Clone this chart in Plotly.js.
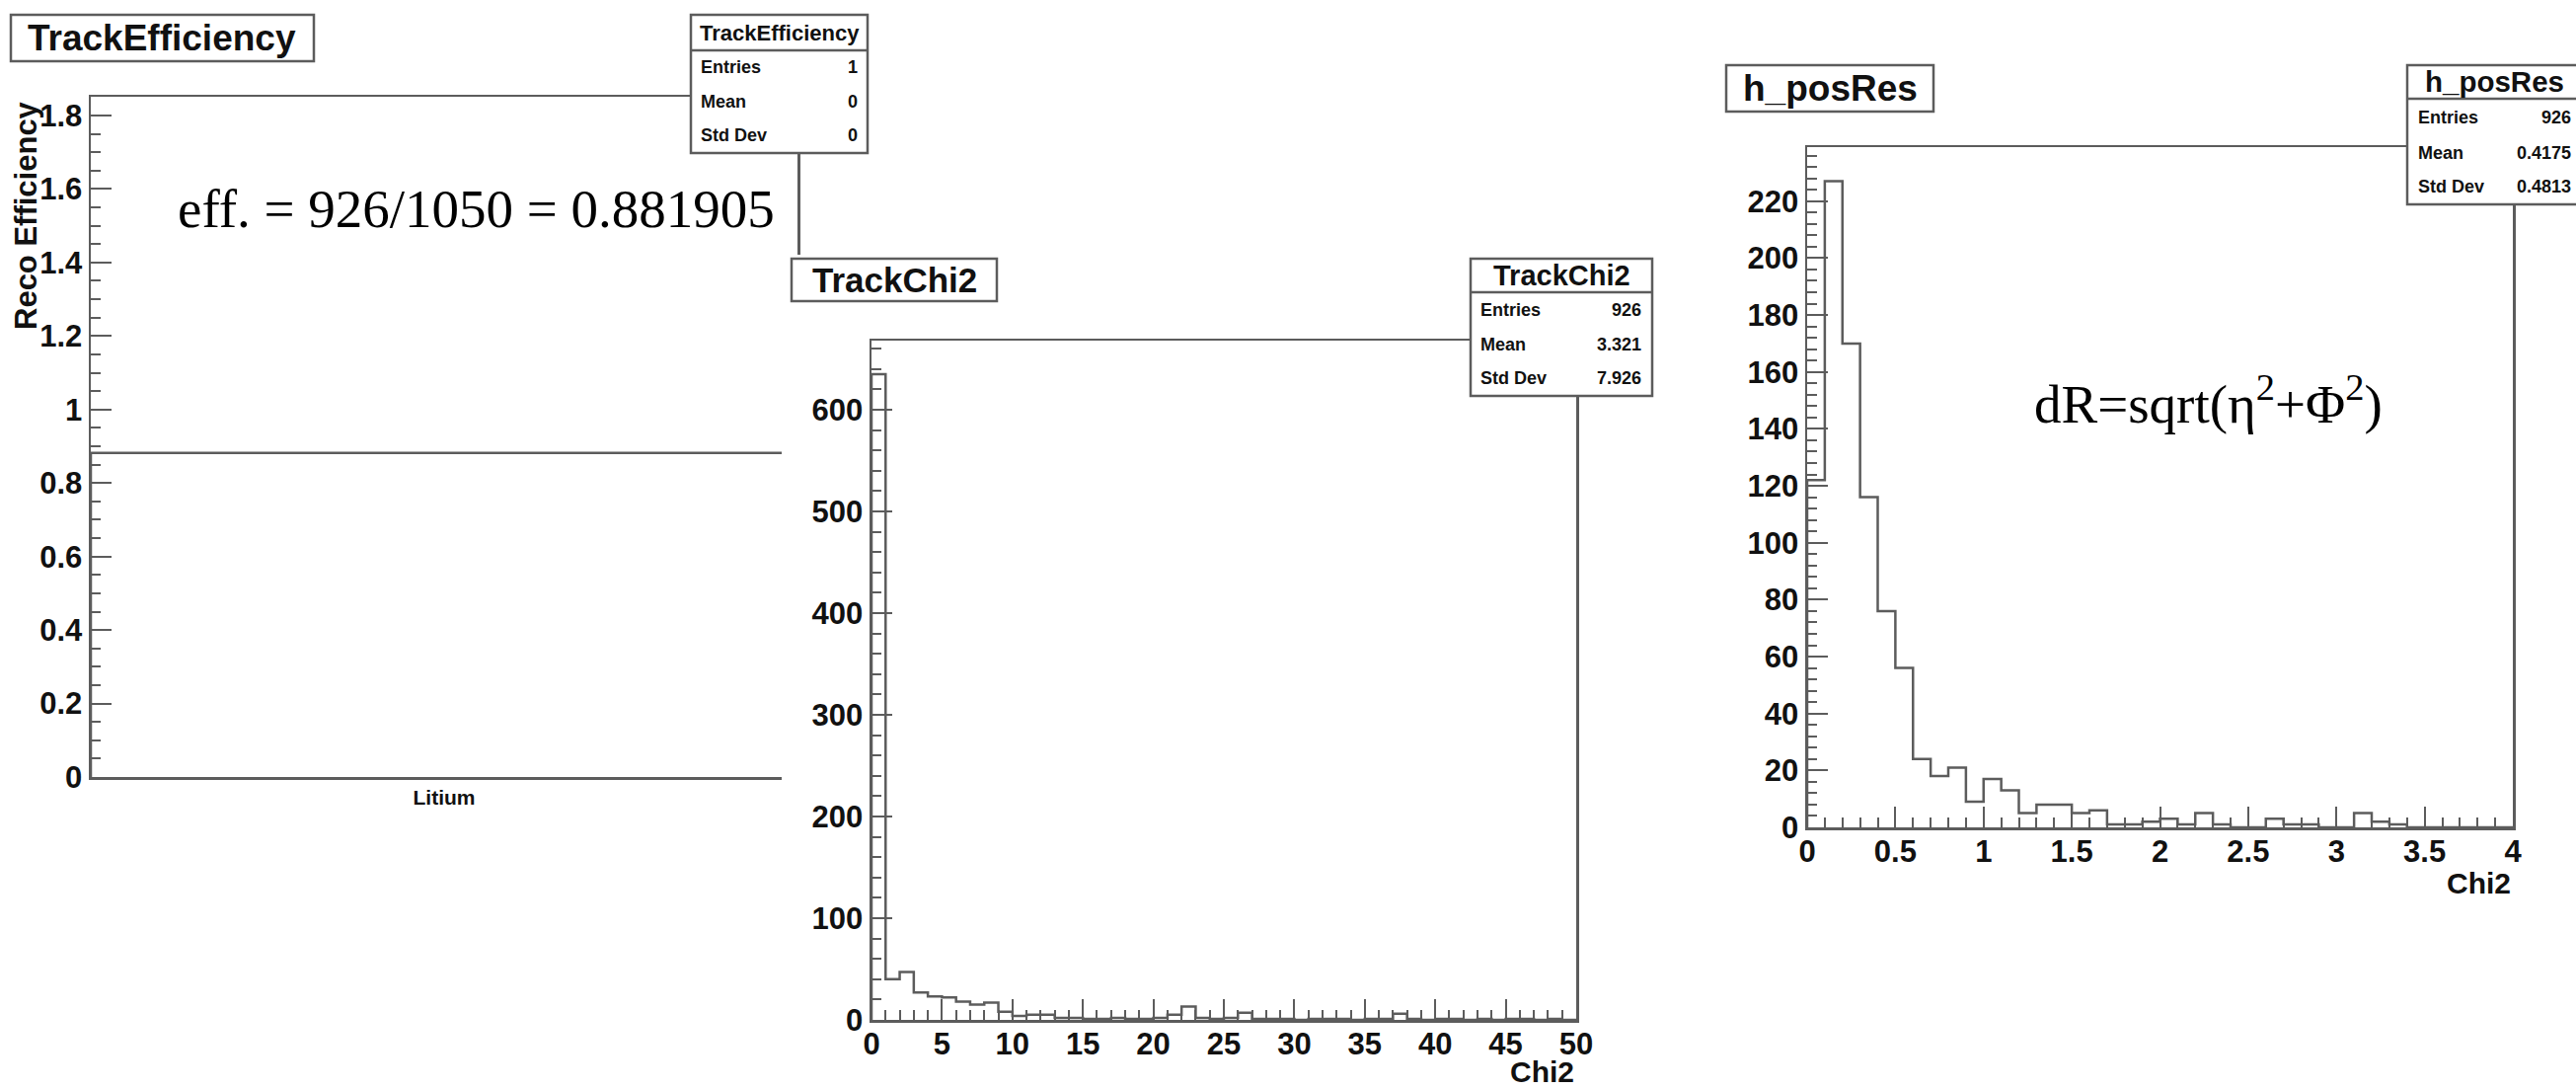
<!DOCTYPE html>
<html>
<head>
<meta charset="utf-8">
<script src="https://cdn.plot.ly/plotly-3.0.1.min.js"></script>
<style>
html,body{margin:0;padding:0;background:#fff;overflow:hidden}
#chart{width:2610px;height:1103px}
</style>
</head>
<body>
<div id="chart"></div>
<script>
// ---------------- data ----------------
const effCategories = ['Litium'];
const effValues = [0.881905];
const effRange = [0, 1.851];

const statLabels = ['Entries', 'Mean', 'Std Dev'];
const effStatValues = ['1', '0', '0'];
const chi2StatValues = ['926', '3.321', '7.926'];
const posResStatValues = ['926', '0.4175', '0.4813'];

const chi2XRange = [0, 50];
const chi2YRange = [0, 668];
const chi2Counts = [635, 40, 47, 27, 23, 22, 18, 15, 17, 8,
                    4, 5, 5, 2, 2, 1, 1, 2, 1, 1,
                    2, 5, 13, 2, 1, 2, 7, 1, 1, 1,
                    0, 1, 1, 1, 0, 1, 1, 6, 1, 0,
                    1, 1, 0, 1, 0, 1, 1, 0, 1, 0];

const posResXRange = [0, 4];
const posResYRange = [0, 239];
const posResCounts = [122, 227, 170, 116, 76, 56, 24, 18, 21, 9,
                      17, 13, 5, 8, 8, 5, 6, 1, 1, 2,
                      3, 1, 5, 1, 0, 0, 3, 1, 1, 0,
                      0, 5, 2, 1, 0, 0, 0, 0, 0, 0];

// ---------------- helpers ----------------
const W = 2610, H = 1103;
const X = p => p / W;
const Y = p => 1 - p / H;
const lineC = '#5c5c5c';
const sans = 'Liberation Sans, Arial, Helvetica, sans-serif';
const serif = 'Liberation Serif, Times New Roman, serif';

function edgesFor(range, n) {
  const e = [];
  for (let i = 0; i <= n; i++) e.push(range[0] + i * (range[1] - range[0]) / n);
  return e;
}
function stepTrace(edges, counts, xa, ya) {
  const n = counts.length;
  const x = [edges[0]], y = [0];
  for (let i = 0; i < n; i++) { x.push(edges[i]); y.push(counts[i]); }
  x.push(edges[n]); y.push(counts[n - 1]);
  x.push(edges[n]); y.push(0);
  return {type: 'scatter', mode: 'lines', x, y, xaxis: xa, yaxis: ya,
          line: {shape: 'hv', color: lineC, width: 2.5}, hoverinfo: 'skip', showlegend: false};
}

const tickFont = {family: sans, size: 31, color: '#111', weight: 'bold'};
function axis(extra) {
  return Object.assign({
    showgrid: false, zeroline: false, showline: true, linecolor: lineC, linewidth: 2.5,
    mirror: true, ticks: 'inside', ticklen: 21, tickwidth: 2, tickcolor: lineC,
    tickfont: tickFont, fixedrange: true
  }, extra);
}
function minor(dt) {
  return {ticks: 'inside', ticklen: 10, tickwidth: 2, tickcolor: lineC, dtick: dt, showgrid: false};
}

// ---------------- traces ----------------
const effEdges = edgesFor([0, effCategories.length], effCategories.length);
const traces = [
  stepTrace(effEdges, effValues, 'x', 'y'),
  stepTrace(edgesFor(chi2XRange, chi2Counts.length), chi2Counts, 'x2', 'y2'),
  stepTrace(edgesFor(posResXRange, posResCounts.length), posResCounts, 'x3', 'y3')
];

// ---------------- boxes ----------------
const shapes = [];
function rect(x0, y0, x1, y1, withLine) {
  shapes.push({type: 'rect', xref: 'paper', yref: 'paper', layer: 'above',
    x0: X(x0), x1: X(x1), y0: Y(y1), y1: Y(y0), fillcolor: '#ffffff',
    line: withLine ? {color: lineC, width: 2.5} : {width: 0}});
}
function hline(x0, x1, y) {
  shapes.push({type: 'line', xref: 'paper', yref: 'paper', layer: 'above',
    x0: X(x0), x1: X(x1), y0: Y(y), y1: Y(y), line: {color: lineC, width: 2.5}});
}
// pad overlap: the middle pad covers the lower-right corner of the left pad
rect(792, 258, 818, 800, false);
// title boxes and stats boxes
rect(11, 15, 318, 62, true);
rect(700, 15, 879, 155, true); hline(700, 879, 51);
rect(802, 262, 1010, 305, true);
rect(1490, 262, 1674, 401, true); hline(1490, 1674, 296);
rect(1749, 66, 1959, 113, true);
rect(2439, 66, 2640, 207, true); hline(2439, 2640, 100);

// ---------------- texts ----------------
const annotations = [];
function txt(t, x, y, size, anchor, opts) {
  annotations.push(Object.assign({
    text: t, xref: 'paper', yref: 'paper', x: X(x), y: Y(y), showarrow: false,
    xanchor: anchor || 'center', yanchor: 'middle',
    font: {family: sans, size: size, color: '#111', weight: 'bold'}
  }, opts || {}));
}
function stats(title, values, cx, ty, tsize, lx, rx, rows) {
  txt(title, cx, ty, tsize);
  statLabels.forEach((l, i) => {
    txt(l, lx, rows[i], 18, 'left');
    txt(values[i], rx, rows[i], 18, 'right');
  });
}
txt('TrackEfficiency', 164.5, 38.5, 37);
stats('TrackEfficiency', effStatValues, 789.5, 33, 22, 708, 871, [68, 103, 137]);
txt('Reco Efficiency', 26, 100, 31, 'center', {textangle: -90, yanchor: 'top'});
txt('eff. = 926/1050 = 0.881905', 482, 211, 55, 'center',
    {font: {family: serif, size: 55, color: '#000'}});

txt('TrackChi2', 906, 283.5, 35);
stats('TrackChi2', chi2StatValues, 1582, 279, 29, 1498, 1665, [314, 349, 383]);
txt('Chi2', 1597, 1085, 30, 'right');

txt('h_posRes', 1854, 89.5, 37);
stats('h_posRes', posResStatValues, 2527, 83, 29.5, 2448, 2607, [119, 155, 189]);
txt('dR=sqrt(η<sup>2</sup>+Φ<sup>2</sup>)', 2237, 405, 55, 'center',
    {font: {family: serif, size: 55, color: '#000'}});
txt('Chi2', 2546, 895, 30, 'right');

// ---------------- layout ----------------
const layout = {
  width: W, height: H,
  margin: {l: 0, r: 0, t: 0, b: 0, pad: 0},
  paper_bgcolor: '#ffffff', plot_bgcolor: '#ffffff',
  showlegend: false,
  xaxis: axis({domain: [X(92), X(808)], range: [0, effCategories.length], anchor: 'y',
               ticks: '', tickvals: effCategories.map((c, i) => i + 0.5), ticktext: effCategories,
               tickfont: {family: sans, size: 21, color: '#111', weight: 'bold'}}),
  yaxis: axis({domain: [Y(787), Y(98)], range: effRange, anchor: 'x',
               dtick: 0.2, tick0: 0, minor: minor(0.05)}),
  xaxis2: axis({domain: [X(883), X(1597)], range: chi2XRange, anchor: 'y2',
                dtick: 5, tick0: 0, minor: minor(1), ticklabelstandoff: -5}),
  yaxis2: axis({domain: [Y(1033), Y(345)], range: chi2YRange, anchor: 'x2',
                dtick: 100, tick0: 0, minor: minor(20)}),
  xaxis3: axis({domain: [X(1831), X(2546)], range: posResXRange, anchor: 'y3',
                dtick: 0.5, tick0: 0, minor: minor(0.1), ticklabelstandoff: -5}),
  yaxis3: axis({domain: [Y(838), Y(149)], range: posResYRange, anchor: 'x3',
                dtick: 20, tick0: 0, minor: minor(4)}),
  shapes: shapes,
  annotations: annotations
};

Plotly.newPlot('chart', traces, layout, {staticPlot: true, displayModeBar: false});
</script>
</body>
</html>
